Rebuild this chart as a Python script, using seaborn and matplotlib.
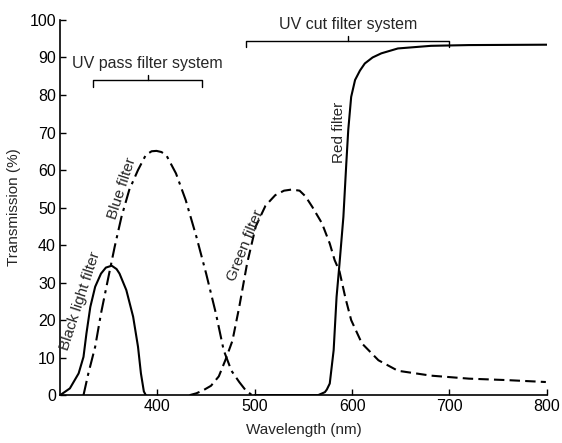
import matplotlib
matplotlib.use("Agg")
import matplotlib.pyplot as plt
import seaborn as sns
import pandas as pd

sns.set_theme(style="ticks")
plt.rcParams['font.family'] = ['Liberation Sans', 'DejaVu Sans']

# ---- data ----
black_wl = [300, 310, 319, 324, 327, 331, 336, 342, 347, 353, 358, 361, 368, 375, 380, 383, 386, 388]
black_t = [0, 1.8, 5.8, 10.2, 16.4, 23.5, 28.9, 32.4, 34, 34.5, 33.6, 32.4, 28, 20.9, 12.9, 5.8, 1, 0]

blue_wl = [324, 329, 336, 342, 349, 356, 363, 371, 380, 388, 394, 399, 404, 409, 419, 429,
           440, 450, 460, 468, 476, 484, 490, 497]
blue_t = [0, 5.8, 12.9, 21.8, 30.7, 39.5, 47.5, 54.7, 60, 64, 65, 65.1, 64.8, 64, 59.1, 52,
          42.2, 32.4, 21.8, 12, 6.5, 3.5, 1.5, 0]

green_wl = [433, 440, 447, 455, 463, 470, 477, 484, 492, 501, 511, 521, 530, 538, 546, 552,
            559, 569, 577, 582, 587, 593, 599, 610, 627, 647, 681, 720, 760, 799]
green_t = [0, 0.5, 1.3, 2.5, 5, 9.5, 14.5, 23.5, 35, 45, 50.5, 53.3, 54.5, 54.8, 54.5, 53,
           50.2, 45.8, 40.4, 36, 33, 26, 20, 13.8, 9.3, 6.5, 5.2, 4.4, 4, 3.5]

red_wl = [500, 565, 572, 574, 577, 581, 584, 587, 591, 594, 596, 599, 603, 608, 613, 621,
          630, 647, 681, 720, 800]
red_t = [0, 0, 0.8, 1.5, 3.1, 12, 26.2, 35, 47.5, 61.8, 70.7, 79.5, 84, 86.5, 88.4, 90,
         91.1, 92.4, 93.1, 93.3, 93.4]

x_ticks = [400, 500, 600, 700, 800]
y_ticks = [0, 10, 20, 30, 40, 50, 60, 70, 80, 90, 100]

uv_pass_range = [334, 446]
uv_pass_level = 84
uv_cut_range = [491, 700]
uv_cut_level = 94.5

fig = plt.figure(figsize=(5.62, 4.43), dpi=100)
ax = fig.add_axes([0.107, 0.108, 0.866, 0.847])

curves = [
    (black_wl, black_t, "-"),
    (blue_wl, blue_t, (0, (7, 2.5, 1.5, 2.5))),
    (green_wl, green_t, (0, (5, 2.5))),
    (red_wl, red_t, "-"),
]
for wl, t, ls in curves:
    df = pd.DataFrame({"wl": wl, "t": t})
    sns.lineplot(data=df, x="wl", y="t", ax=ax, color="black", lw=1.5,
                 linestyle=ls, sort=False, estimator=None)

ax.set_xlim(300, 800)
ax.set_ylim(0, 100)
ax.set_xticks(x_ticks)
ax.set_yticks(y_ticks)
ax.tick_params(direction="in", length=4, width=1, labelsize=11.5, pad=3, colors="black")
for s in ["top", "right"]:
    ax.spines[s].set_visible(False)
for s in ["left", "bottom"]:
    ax.spines[s].set_linewidth(1.2)
    ax.spines[s].set_color("black")
ax.set_xlabel("Wavelength (nm)", fontsize=11, labelpad=6)
ax.set_ylabel("Transmission (%)", fontsize=11, labelpad=6)

# brackets
def bracket(r, lvl, down=1.8):
    ax.plot([r[0], r[0], r[1], r[1]], [lvl - down, lvl, lvl, lvl - down],
            color="black", lw=1.0, clip_on=False)
    mid = (r[0] + r[1]) / 2
    ax.plot([mid, mid], [lvl, lvl + 1.2], color="black", lw=1.0, clip_on=False)
    return mid

m1 = bracket(uv_pass_range, uv_pass_level)
ax.text(m1, uv_pass_level + 2.3, "UV pass filter system", ha="center", va="bottom", fontsize=11.5)
m2 = bracket(uv_cut_range, uv_cut_level)
ax.text(m2, uv_cut_level + 2.3, "UV cut filter system", ha="center", va="bottom", fontsize=11.5,
        clip_on=False)

ax.text(321, 25, "Black light filter", rotation=72, ha="center", va="center", fontsize=11)
ax.text(364, 55, "Blue filter", rotation=72, ha="center", va="center", fontsize=11)
ax.text(490.5, 40, "Green filter", rotation=68, ha="center", va="center", fontsize=11)
ax.text(586, 70, "Red filter", rotation=90, ha="center", va="center", fontsize=11)

fig.savefig("out.png", dpi=100, facecolor="white")
